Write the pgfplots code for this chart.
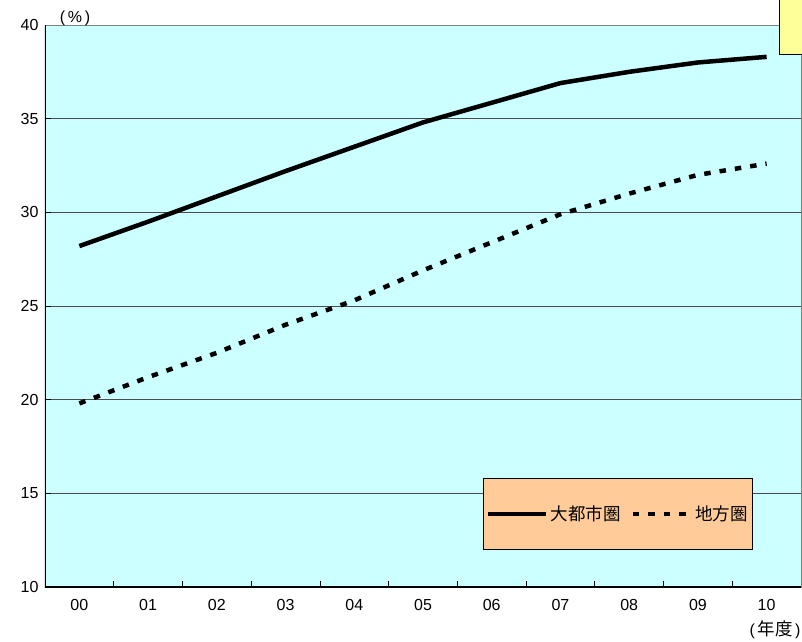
\documentclass[border=0pt]{standalone}
\usepackage{fontspec}
\setmainfont{Liberation Sans}
\newfontfamily\cjk{Noto Sans CJK JP}
\usepackage{pgfplots}
\pgfplotsset{compat=1.18}
\definecolor{bgcyan}{HTML}{CCFFFF}
\definecolor{peach}{HTML}{FFCC99}
\definecolor{lyellow}{HTML}{FFFF99}
\begin{document}
\fontsize{16}{19}\selectfont
\begin{tikzpicture}[x=1pt,y=1pt]
\path[use as bounding box] (-45,-54) rectangle (757,587);
\begin{axis}[at={(0,0)}, anchor=south west, scale only axis,
  width=756pt, height=562pt,
  xmin=-0.5, xmax=10.5, ymin=10, ymax=40,
  axis background/.style={fill=bgcyan},
  xtick={0,...,10},
  xticklabels={00,01,02,03,04,05,06,07,08,09,10},
  major x tick style={draw=none},
  minor xtick={0.5,1.5,...,9.5},
  minor tick length=6pt,
  major tick length=6pt,
  ytick={10,15,...,40},
  ymajorgrids,
  grid style={draw=black!70, line width=0.6pt},
  tick align=inside, xtick pos=bottom, ytick pos=left,
  axis line style={draw=gray, line width=0.8pt},
  tick style={black, line width=0.8pt},
  /pgf/number format/assume math mode=true,
  tick label style={font=\fontsize{16}{19}\selectfont},
  xticklabel style={yshift=-7pt},
  yticklabel style={xshift=-1pt},
  legend style={at={(rel axis cs:0.579,0.066)}, anchor=south west,
    fill=peach, draw=black, line width=0.8pt, legend columns=2,
    inner xsep=3pt, inner ysep=25pt,
    font=\cjk\fontsize{17.5}{20}\selectfont,
    /tikz/every even column/.append style={column sep=8pt}},
  legend cell align=left,
  legend image code/.code={\draw[#1] (0pt,0pt) -- (58pt,0pt);},
]
\addplot[black, line width=4.5pt] coordinates {
 (0,28.2)(1,29.5)(2,30.85)(3,32.2)(4,33.5)(5,34.8)(6,35.85)(7,36.9)(8,37.5)(9,38.0)(10,38.3)};
\addlegendentry{大都市圏}
\addplot[black, line width=4.5pt, dash pattern=on 6.5pt off 9pt] coordinates {
 (0,19.8)(1,21.2)(2,22.5)(3,24.0)(4,25.3)(5,26.9)(6,28.4)(7,29.9)(8,31.0)(9,32.0)(10,32.6)};
\addlegendentry{地方圏}
\draw[black, line width=1.2pt] (rel axis cs:0,1) -- (rel axis cs:0,0) -- (rel axis cs:1,0);
\end{axis}
\node at (30,569) {(\,\%\,)};
\node at (730,-43) {(\,{\cjk\fontsize{17.5}{20}\selectfont 年度}\,)};
\draw[black, line width=1pt, fill=lyellow] (734,532) rectangle (775,600);
\end{tikzpicture}
\end{document}
